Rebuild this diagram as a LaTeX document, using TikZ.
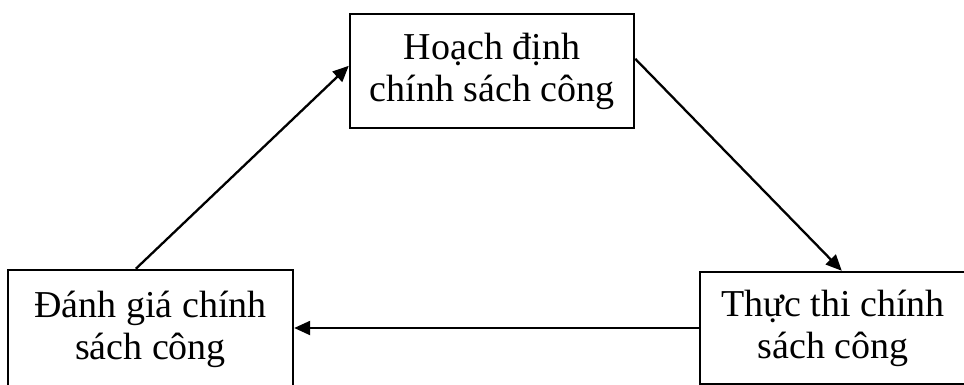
\documentclass[tikz,border=0pt]{standalone}
\usepackage{fontspec}
\setmainfont{Liberation Serif}
\usetikzlibrary{arrows.meta}
\begin{document}
\begin{tikzpicture}[x=1pt,y=-1pt,
  box/.style={draw,line width=2.4pt,rectangle,align=center,inner sep=0pt,
    font=\fontsize{38pt}{42pt}\selectfont},
  arr/.style={line width=2.3pt,-{Triangle[length=16pt,width=14pt]}}]
\useasboundingbox (0,0) rectangle (964,385);
\clip (0,0) rectangle (964,385);
\node[box,minimum width=284pt,minimum height=114pt] (tb) at (492,71) {Hoạch định\\chính sách công};
\node[box,minimum width=285pt,minimum height=118pt] (lb) at (150.5,329) {Đánh giá chính\\sách công};
\node[box,minimum width=266pt,minimum height=112pt] (rb) at (833,328) {Thực thi chính\\sách công};
\draw[arr] ([xshift=129pt]lb.north west) -- ([yshift=-53pt]tb.north west);
\draw[arr] ([yshift=-46pt]tb.north east) -- ([xshift=143pt]rb.north west);
\draw[arr] (rb.west) -- (rb.west -| lb.east);
\end{tikzpicture}
\end{document}
